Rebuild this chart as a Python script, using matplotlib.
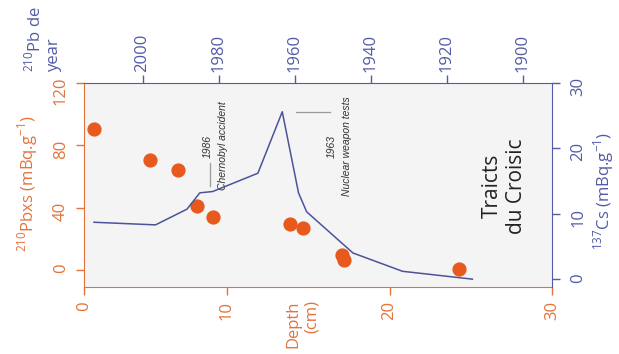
import numpy as np
import matplotlib.pyplot as plt

plt.rcParams['font.family'] = ['Open Sans', 'DejaVu Sans']
plt.rcParams['mathtext.fontset'] = 'custom'
plt.rcParams['mathtext.rm'] = 'Open Sans'

# 210Pb excess activity vs depth
depth_pb = [0.7, 4.6, 6.6, 7.9, 9.0, 13.9, 14.7, 17.1, 17.2, 24.3]
pb_xs = [90.7, 70.4, 64.2, 41.1, 34.2, 29.5, 26.9, 9.6, 6.4, 0.6]

# 137Cs activity profile
depth_cs = [0.7, 5.0, 7.2, 8.1, 9.0, 11.9, 13.4, 14.4, 14.9, 17.75, 20.8, 25.1]
cs = [8.7, 8.3, 10.7, 13.2, 13.4, 16.2, 25.6, 13.2, 10.3, 4.0, 1.2, 0.0]

depth_ticks = [0, 10, 20, 30]
pb_ticks = [0, 40, 80, 120]
cs_ticks = [0, 10, 20, 30]
year_ticks = [2000, 1980, 1960, 1940, 1920, 1900]

ORANGE = '#e4733a'
DOT = '#e8591d'
BLUE = '#535ba6'
LINE = '#4b5399'

# depth axis: upper 10 cm drawn slightly compressed
K = 0.88


def depth_fwd(d):
    d = np.asarray(d, dtype=float)
    return np.where(d < 10, d * K, d - 10 + 10 * K)


def depth_inv(u):
    u = np.asarray(u, dtype=float)
    return np.where(u < 10 * K, u / K, u + 10 - 10 * K)


fig = plt.figure(figsize=(6.19, 3.54), dpi=100)
ax = fig.add_axes([0.1357, 0.1893, 0.7561, 0.5763])
ax.set_facecolor('#f4f4f4')
ax.set_xscale('function', functions=(depth_fwd, depth_inv))

ax.scatter(depth_pb, pb_xs, s=105, color=DOT, linewidths=0, zorder=3)

# event markers
ax.plot([8.81, 8.81], [53.9, 68.7], color='#9a9a9a', lw=0.9)
ax.plot([14.25, 16.34], [101.6, 101.6], color='#9a9a9a', lw=0.9)
note = dict(rotation=90, ha='center', va='center', style='italic',
            fontsize=7.5, color='#333333', family='Liberation Sans')
ax.text(8.67, 79.3, '1986', **note)
ax.text(9.72, 79.6, 'Chernobyl accident', **note)
ax.text(16.45, 79.3, '1963', **note)
ax.text(17.4, 79.6, 'Nuclear weapon tests', **note)
ax.text(27.05, 53.9, 'Traicts\ndu Croisic', rotation=90, ha='center',
        va='center', multialignment='center', fontsize=15, color='#222222')

ax.set_xlim(0, 30)
ax.set_ylim(-11, 120)
ax.set_xticks(depth_ticks)
ax.set_yticks(pb_ticks)
ax.tick_params(colors=ORANGE, labelsize=12, length=6, width=1, labelrotation=90)
ax.tick_params(axis='x', pad=4)
ax.tick_params(axis='y', pad=5)
for s in ['left', 'bottom']:
    ax.spines[s].set_color(ORANGE)
for s in ['top', 'right']:
    ax.spines[s].set_visible(False)

# 137Cs on the right
axc = ax.twinx()
axc.plot(depth_cs, cs, color=LINE, lw=1.1)
axc.set_ylim(-1.2, 30)
axc.set_yticks(cs_ticks)
axc.tick_params(colors=BLUE, labelsize=12, length=6, width=1, labelrotation=90, pad=7)
for s in ['left', 'bottom', 'top']:
    axc.spines[s].set_visible(False)
axc.spines['right'].set_color(BLUE)

# 210Pb derived years on top
axt = ax.twiny()
axt.set_xlim(2015.4, 1892.3)
axt.set_xticks(year_ticks)
axt.tick_params(colors=BLUE, labelsize=12, length=6, width=1, labelrotation=90, pad=2)
for s in ['left', 'bottom', 'right']:
    axt.spines[s].set_visible(False)
axt.spines['top'].set_color(BLUE)

fig.text(28 / 619, 1 - 184 / 354, r'$^{210}$Pbxs (mBq.g$^{-1}$)', rotation=90,
         ha='center', va='center', fontsize=12, color=ORANGE)
fig.text(604 / 619, 1 - 191 / 354, r'$^{137}$Cs (mBq.g$^{-1}$)', rotation=90,
         ha='center', va='center', fontsize=12, color=BLUE)
fig.text(303 / 619, 1 - 300 / 354, 'Depth\n(cm)', rotation=90, ha='center',
         va='top', multialignment='right', fontsize=12, color=ORANGE)
fig.text(43 / 619, 1 - 72 / 354, '$^{210}$Pb de\nyear', rotation=90, ha='center',
         va='bottom', multialignment='left', fontsize=12, color=BLUE)

fig.savefig('out.png', dpi=100)
